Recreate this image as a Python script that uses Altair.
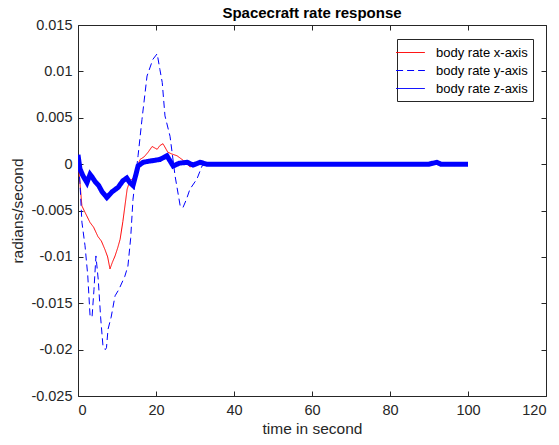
import altair as alt
import pandas as pd

series_names = ["body rate x-axis", "body rate y-axis", "body rate z-axis"]
series_colors = ["#FF0000", "#0000FF", "#0000FF"]

t_x = [0, 0.5, 1.0, 1.8, 3.1, 4.0, 5.1, 6.0, 6.9, 7.6, 8.2, 8.8, 9.5, 10.2, 10.8, 11.5, 12.6, 13.3,
       14.2, 15.0, 15.9, 17, 18, 19, 20.3, 21, 21.8, 23, 24, 25.4, 27, 28.7, 30, 31, 33, 35, 40,
       50, 60, 70, 80, 90, 100]
v_x = [0.0005, -0.002, -0.0045, -0.0052, -0.0063, -0.0068, -0.0078, -0.0083, -0.0092, -0.0100,
       -0.0113, -0.0106, -0.0099, -0.0090, -0.0081, -0.0062, -0.0027, -0.0018, -0.0015, -0.0005,
       0.0005, 0.0008, 0.0013, 0.0019, 0.0016, 0.0020, 0.0022, 0.0013, 0.0011, 0.0009, 0.0004,
       -0.0003, -0.0001, 0.0, 0.0001, 0, 0, 0, 0, 0, 0, 0, 0]

t_y = [0, 0.5, 1.0, 1.8, 2.5, 3.1, 3.6, 4.1, 4.6, 5.2, 5.8, 6.4, 7.0, 7.3, 7.7, 8.5, 9.5, 10.5, 12,
       12.8, 13.5, 14.1, 15.1, 15.4, 16.4, 17.7, 19.2, 20.3, 21, 21.6, 22.3, 23.6, 24.9, 26.2, 26.9,
       27.8, 28.7, 30.5, 31.8, 33, 35, 40, 50, 60, 70, 80, 90, 100]
v_y = [0.001, -0.002, -0.00625, -0.0088, -0.012, -0.0164, -0.0165, -0.0135, -0.0099, -0.0125,
       -0.0165, -0.0196, -0.0200, -0.0198, -0.0178, -0.0165, -0.0142, -0.0135, -0.0121, -0.011,
       -0.008, -0.0038, -0.0002, 0.0009, 0.0048, 0.0095, 0.0113, 0.0119, 0.0102, 0.0088, 0.0052,
       0.003, -0.0013, -0.0045, -0.0047, -0.0038, -0.0027, -0.0016, -0.0002, 0.0001, 0, 0, 0, 0,
       0, 0, 0, 0]

t_z = [0, 0.5, 1.2, 2.3, 3.1, 3.8, 4.4, 5.3, 6.2, 7.4, 8.7, 10.3, 11.5, 12.5, 13.3, 14.1, 14.8,
       15.4, 16.7, 18, 19.5, 21, 22.8, 24.4, 26, 28, 29.5, 31.3, 33, 35, 40, 50, 60, 70, 80, 90,
       92, 93, 100]
v_z = [0.001, -0.0005, -0.0012, -0.002, -0.0011, -0.0015, -0.0019, -0.0023, -0.003, -0.0036,
       -0.003, -0.0025, -0.0018, -0.0015, -0.002, -0.0023, -0.0012, -0.0002, 0.0002, 0.0003,
       0.0004, 0.0005, 0.0009, -0.0002, 0.0001, 0.0002, -0.0001, 0.0002, 0, 0, 0, 0, 0, 0, 0, 0,
       0.0002, 0, 0]

x_ticks = [0, 20, 40, 60, 80, 100, 120]
y_ticks = [-0.025, -0.02, -0.015, -0.01, -0.005, 0, 0.005, 0.01, 0.015]

rows = []
for name, ts, vs in [(series_names[0], t_x, v_x), (series_names[1], t_y, v_y), (series_names[2], t_z, v_z)]:
    for i, (t, v) in enumerate(zip(ts, vs)):
        rows.append({"series": name, "t": t, "v": v, "order": i})
df = pd.DataFrame(rows)

FONT = "Liberation Sans"
AX = "#262626"

xscale = alt.Scale(domain=[0, 120], nice=False)
yscale = alt.Scale(domain=[-0.025, 0.015], nice=False)

legend_cfg = alt.Legend(title=None, orient="none", legendX=319, legendY=14,
                        symbolType="M-1.8,0H1.8", symbolSize=256,
                        symbolStrokeWidth=1, labelFontSize=13,
                        labelColor="#000000", strokeColor=AX, fillColor="white",
                        padding=5, rowPadding=2, labelOffset=17)

color_enc = alt.Color("series:N",
                      scale=alt.Scale(domain=series_names, range=series_colors),
                      legend=legend_cfg)
dash_enc = alt.StrokeDash("series:N",
                          scale=alt.Scale(domain=series_names, range=[[1, 0], [7, 4], [1, 0]]),
                          legend=legend_cfg)

thin_lines = alt.Chart(df).mark_line(clip=True, strokeWidth=1).encode(
    x=alt.X("t:Q", scale=xscale,
            axis=alt.Axis(title="time in second", values=x_ticks, offset=-5, tickSize=5,
                          domain=False, grid=False, labelPadding=7, tickColor=AX,
                          labelColor=AX, titleColor=AX, titlePadding=5)),
    y=alt.Y("v:Q", scale=yscale,
            axis=alt.Axis(title="radians/second", values=y_ticks, offset=-5, tickSize=5,
                          domain=False, grid=False, labelPadding=6, tickColor=AX,
                          labelColor=AX, titleColor=AX, titlePadding=5,
                          labelExpr="datum.value + ''")),
    color=color_enc,
    strokeDash=dash_enc,
    order="order:Q",
).transform_filter(alt.datum.series != series_names[2])

thick_line = alt.Chart(df).mark_line(clip=True, strokeWidth=5).encode(
    x=alt.X("t:Q", scale=xscale, axis=None),
    y=alt.Y("v:Q", scale=yscale, axis=None),
    color=color_enc,
    strokeDash=dash_enc,
    order="order:Q",
).transform_filter(alt.datum.series == series_names[2])

frame_ticks = alt.Chart(df).mark_line(opacity=0).encode(
    x=alt.X("t:Q", scale=xscale,
            axis=alt.Axis(title=None, orient="top", values=x_ticks, labels=False, offset=-5,
                          tickSize=5, domain=False, grid=False, tickColor=AX)),
    y=alt.Y("v:Q", scale=yscale,
            axis=alt.Axis(title=None, orient="right", values=y_ticks, labels=False, offset=-5,
                          tickSize=5, domain=False, grid=False, tickColor=AX)),
    detail="series:N",
)

chart = alt.layer(thin_lines, thick_line, frame_ticks).resolve_axis(
    x="independent", y="independent"
).properties(
    width=468,
    height=371,
    autosize="none",
    padding={"left": 70, "top": 17, "right": 5, "bottom": 40},
    title=alt.Title("Spacecraft rate response", fontSize=15, fontWeight="bold", font=FONT,
                    color="#000000", offset=-4),
).configure_view(stroke=AX, strokeWidth=1).configure_axis(
    labelFont=FONT, titleFont=FONT, labelFontSize=14.5, titleFontSize=15.5, titleFontWeight="normal"
).configure_legend(labelFont=FONT)

chart.save("out.html", embed_options={"renderer": "svg", "actions": False})
